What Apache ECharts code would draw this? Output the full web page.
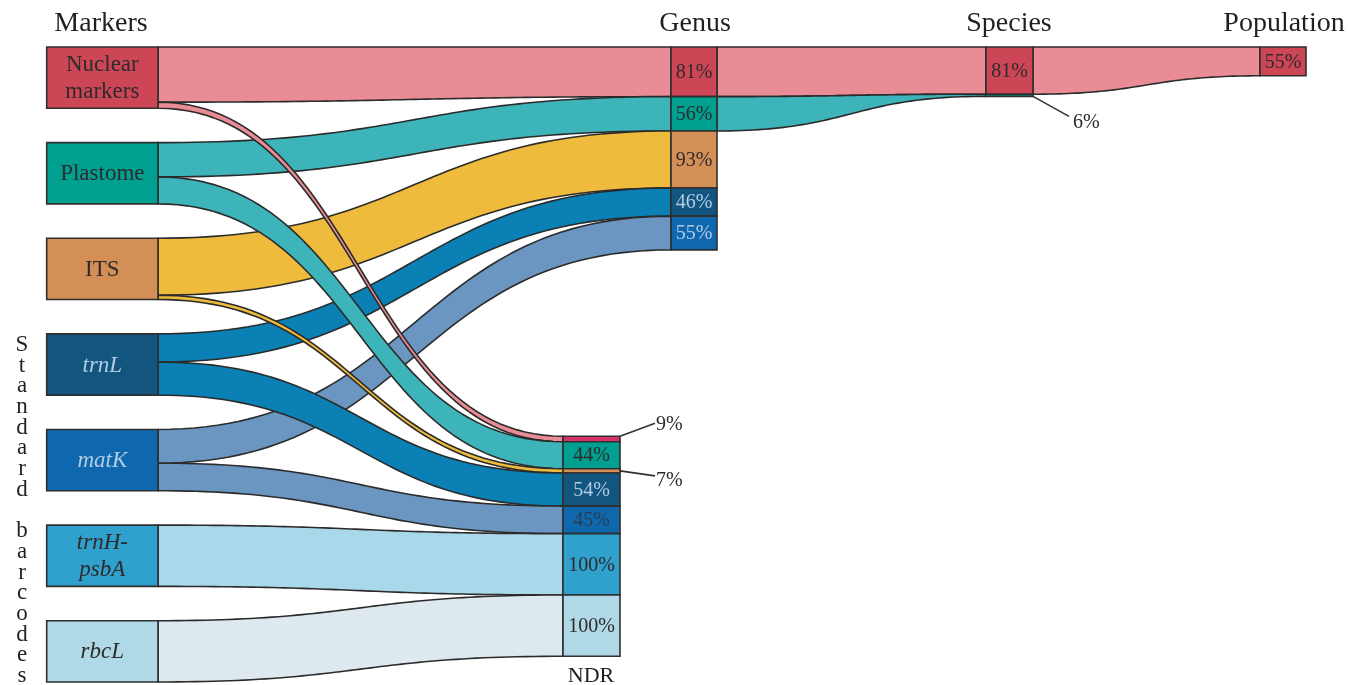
<!DOCTYPE html>
<html><head><meta charset="utf-8">
<script src="https://cdn.jsdelivr.net/npm/echarts@6/dist/echarts.min.js"></script>
<style>html,body{margin:0;padding:0;background:#fff}#c{width:1348px;height:685px}</style>
</head><body><div id="c"></div>
<script>
// ---------------- data ----------------
const markers = ['Nuclear\nmarkers', 'Plastome', 'ITS', 'trnL', 'matK', 'trnH-\npsbA', 'rbcL'];
const italicMarker = [false, false, false, true, true, true, true];
const genusPct = [81, 56, 93, 46, 55, null, null];          // % resolved at genus level
const ndrPct = [9, 44, 7, 54, 45, 100, 100];                // % NDR
const speciesFrom = [0, 1];                                  // marker index feeding species nodes
const speciesPct = [81, 6];                                  // label values
const speciesSize = [77, 3.5];                               // node heights
const populationFrom = [0];
const populationPct = [55];
const populationSize = [47];
const columnTitles = ['Markers', 'Genus', 'Species', 'Population'];
const ndrTitle = 'NDR';
const sideTitle = 'Standard barcodes';

// ---------------- styles / layout ----------------
const nodeColors = ['#cc4656', '#00a091', '#d38f56', '#12557f', '#0f68ad', '#2fa1cc', '#afd9e6'];
const ndrNodeColors = ['#d6336a', '#00a091', '#d9915a', '#12557f', '#0f68ad', '#2fa1cc', '#afd9e6'];
const linkColors = ['#ea8c95', '#3db4b9', '#efbb3d', '#0a80b5', '#6b96c1', '#aad8eb', '#dde9ef'];
const DARK = '#2f2a2c', LIGHT = '#b3cbe6';
const markerTextColors = [DARK, DARK, DARK, LIGHT, LIGHT, DARK, DARK];
const genusTextColors = [DARK, DARK, DARK, LIGHT, LIGHT];
const ndrTextColors = [DARK, DARK, DARK, LIGHT, '#2a3d56', DARK, DARK];
const ndrOutside = ['up', null, 'right', null, null, null, null];
const FONT = '"Liberation Serif", "Times New Roman", serif';

const X = { markers: [46.7, 158], ndr: [563, 620], genus: [671, 717], species: [986, 1033], population: [1260, 1306] };
const MARKER_H = 100, MARKER_GAP = 56, NDR_TOP = 635, Y_MAX = 7 * MARKER_H + 6 * MARKER_GAP;

// ---------------- build nodes & links ----------------
const nodes = [];
const links = [];
const genusNode = [];
let gy = 0, ny = NDR_TOP;
markers.forEach((m, i) => {
  const top = i * (MARKER_H + MARKER_GAP);
  nodes.push({ col: 'markers', y0: top, y1: top + MARKER_H, color: nodeColors[i], text: m,
    textColor: markerTextColors[i], italic: italicMarker[i], fontSize: 23, lineHeight: 27 });
  const outs = [];
  if (genusPct[i] != null) {
    const g = { y0: gy, y1: gy + genusPct[i] };
    gy += genusPct[i];
    genusNode[i] = g;
    nodes.push({ col: 'genus', y0: g.y0, y1: g.y1, color: nodeColors[i], text: genusPct[i] + '%',
      textColor: genusTextColors[i], fontSize: 20 });
    outs.push({ to: 'genus', v: genusPct[i], n: g, layer: 0 });
  }
  const d = { y0: ny, y1: ny + ndrPct[i] };
  ny += ndrPct[i];
  nodes.push({ col: 'ndr', y0: d.y0, y1: d.y1, color: ndrNodeColors[i], text: ndrPct[i] + '%',
    textColor: ndrTextColors[i], fontSize: 20, outside: ndrOutside[i] });
  outs.push({ to: 'ndr', v: ndrPct[i], n: d, layer: 3 });
  const tot = outs.reduce((a, o) => a + o.v, 0);
  let sy = top;
  outs.forEach(o => {
    const w = MARKER_H * o.v / tot;
    links.push({ from: 'markers', to: o.to, s0: sy, s1: sy + w, t0: o.n.y0, t1: o.n.y1, color: linkColors[i], layer: o.layer });
    sy += w;
  });
});
const speciesNode = [];
let sy2 = 0;
speciesFrom.forEach((mi, j) => {
  const s = { y0: sy2, y1: sy2 + speciesSize[j] };
  sy2 += speciesSize[j];
  speciesNode[mi] = s;
  nodes.push({ col: 'species', y0: s.y0, y1: s.y1, color: nodeColors[mi], text: speciesPct[j] + '%',
    textColor: DARK, fontSize: 20, outside: speciesSize[j] < 10 ? 'down' : null });
  links.push({ from: 'genus', to: 'species', s0: genusNode[mi].y0, s1: genusNode[mi].y1, t0: s.y0, t1: s.y1, color: linkColors[mi], layer: 1 });
});
let py = 0;
populationFrom.forEach((mi, j) => {
  const p = { y0: py, y1: py + populationSize[j] };
  py += populationSize[j];
  nodes.push({ col: 'population', y0: p.y0, y1: p.y1, color: nodeColors[mi], text: populationPct[j] + '%',
    textColor: DARK, fontSize: 20 });
  links.push({ from: 'species', to: 'population', s0: speciesNode[mi].y0, s1: speciesNode[mi].y1, t0: p.y0, t1: p.y1, color: linkColors[mi], layer: 2 });
});
links.sort((a, b) => a.layer - b.layer);

// ---------------- rendering ----------------
function bez(a, b, c, d, t) { const u = 1 - t; return u * u * u * a + 3 * u * u * t * b + 3 * u * t * t * c + t * t * t * d; }
function curve(pa, pb, n) {
  const xm = (pa[0] + pb[0]) / 2, pts = [];
  for (let k = 0; k <= n; k++) {
    const t = k / n;
    pts.push([bez(pa[0], xm, xm, pb[0], t), bez(pa[1], pa[1], pb[1], pb[1], t)]);
  }
  return pts;
}
function renderLink(params, api) {
  const xa = api.value(0), s0 = api.value(1), s1 = api.value(2), xb = api.value(3), t0 = api.value(4), t1 = api.value(5);
  const top = curve(api.coord([xa, s0]), api.coord([xb, t0]), 60);
  const bot = curve(api.coord([xb, t1]), api.coord([xa, s1]), 60);
  return {
    type: 'polygon',
    shape: { points: top.concat(bot) },
    style: { fill: links[params.dataIndex].color, stroke: '#2b2b2b', lineWidth: 1.6, lineJoin: 'round' }
  };
}
function renderNode(params, api) {
  const n = nodes[params.dataIndex];
  const p0 = api.coord([api.value(0), api.value(1)]);
  const p1 = api.coord([api.value(2), api.value(3)]);
  const w = p1[0] - p0[0], h = p1[1] - p0[1];
  const children = [{ type: 'rect', shape: { x: p0[0], y: p0[1], width: w, height: h },
    style: { fill: n.color, stroke: '#2f2f2f', lineWidth: 1.6 } }];
  const ts = { text: n.text, fill: n.textColor, fontFamily: FONT, fontSize: n.fontSize,
    fontStyle: n.italic ? 'italic' : 'normal', lineHeight: n.lineHeight || n.fontSize };
  if (!n.outside) {
    children.push({ type: 'text', style: Object.assign({ x: p0[0] + w / 2, y: p0[1] + h / 2 + 1,
      align: 'center', verticalAlign: 'middle' }, ts) });
  } else {
    let a, b, tx;
    if (n.outside === 'up') { a = [p1[0], p0[1]]; b = [p1[0] + 35, p0[1] - 13]; tx = [b[0] + 1, b[1] + 2]; }
    else if (n.outside === 'right') { a = [p1[0], p0[1] + h / 2]; b = [p1[0] + 35, a[1] + 5]; tx = [b[0] + 1, b[1] + 5]; }
    else { a = [p1[0], p1[1]]; b = [p1[0] + 36, p1[1] + 20]; tx = [b[0] + 4, b[1] + 6]; }
    children.push({ type: 'line', shape: { x1: a[0], y1: a[1], x2: b[0], y2: b[1] }, style: { stroke: '#333', lineWidth: 1.6 } });
    children.push({ type: 'text', style: Object.assign({ x: tx[0], y: tx[1], align: 'left', verticalAlign: 'middle' }, ts, { fill: DARK }) });
  }
  return { type: 'group', children };
}

function title(text, x, y, size) {
  return { type: 'text', x: x, y: y, silent: true,
    style: { text: text, fill: '#231f20', fontFamily: FONT, fontSize: size,
      align: 'center', verticalAlign: 'middle', textAlign: 'center', textVerticalAlign: 'middle' } };
}
const headerX = [101, 695, 1009, 1284];
const graphics = columnTitles.map((t, i) => title(t, headerX[i], 24, 28));
graphics.push(title(ndrTitle, 591, 676, 22));
graphics.push({ type: 'text', x: 22, y: 334.6, silent: true,
  style: { text: sideTitle.split('').join('\n'), fill: '#231f20', fontFamily: FONT, fontSize: 23, lineHeight: 20.7,
    align: 'center', verticalAlign: 'top', textAlign: 'center', textVerticalAlign: 'top' } });

const chart = echarts.init(document.getElementById('c'), null, { renderer: 'canvas' });
chart.setOption({
  animation: false,
  backgroundColor: '#ffffff',
  grid: { left: 0, right: 0, top: 47, bottom: 3 },
  xAxis: { type: 'value', min: 0, max: 1348, show: false },
  yAxis: { type: 'value', min: 0, max: Y_MAX, inverse: true, show: false },
  graphic: graphics,
  series: [
    { type: 'custom', renderItem: renderLink, silent: true, z: 1,
      data: links.map(l => [X[l.from][1], l.s0, l.s1, X[l.to][0], l.t0, l.t1]) },
    { type: 'custom', renderItem: renderNode, silent: true, z: 2,
      data: nodes.map(n => [X[n.col][0], n.y0, X[n.col][1], n.y1]) }
  ]
});
</script></body></html>
